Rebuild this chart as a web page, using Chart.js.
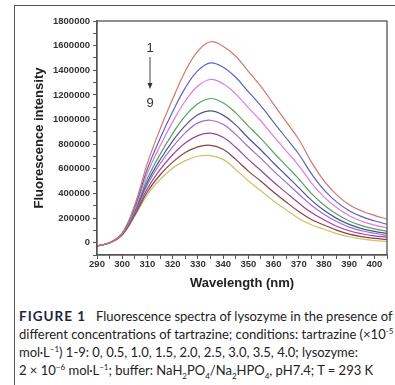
<!DOCTYPE html>
<html>
<head>
<meta charset="utf-8">
<script src="https://cdn.jsdelivr.net/npm/chart.js@4.4.0/dist/chart.umd.min.js"></script>
<style>
body{margin:0;background:#fff;width:395px;height:385px;overflow:hidden;position:relative}
#frame{position:absolute;left:14px;top:5px;width:420px;height:420px;border-left:1.5px solid #555;border-top:1.5px solid #555}
#grafico{position:absolute;left:0;top:0}
#didascalia{position:absolute;left:19px;top:307px;white-space:nowrap;font-family:Lato,"Open Sans",sans-serif;font-size:13px;line-height:18px;color:#222}
#didascalia .fig{font-weight:bold;letter-spacing:1px;color:#1c2540;font-size:13.5px}
#didascalia sup,#didascalia sub{font-size:8px;line-height:0}
</style>
</head>
<body>
<div id="frame"></div>
<canvas id="grafico" width="395" height="300"></canvas>
<div id="didascalia">
<span class="fig">FIGURE 1</span>&nbsp;&nbsp;&nbsp;Fluorescence spectra of lysozyme in the presence of<br>
different concentrations of tartrazine; conditions: tartrazine (×10<sup>-5</sup><br>
mol·L<sup>−1</sup>) 1-9: 0, 0.5, 1.0, 1.5, 2.0, 2.5, 3.0, 3.5, 4.0; lysozyme:<br>
2 × 10<sup>−6</sup> mol·L<sup>−1</sup>; buffer: NaH<sub>2</sub>PO<sub>4</sub>/Na<sub>2</sub>HPO<sub>4</sub>, pH7.4; T = 293 K
</div>
<script>
// lunghezze d'onda (nm)
var lunghezze = [290,295,300,305,310,315,320,325,330,335,340,345,350,355,360,365,370,375,380,385,390,395,400,405];

// intensita' di fluorescenza, curve 1-9
var curva1 = [12000,38000,115000,340000,670000,940000,1180000,1400000,1560000,1635000,1600000,1520000,1400000,1280000,1140000,1000000,860000,680000,530000,420000,340000,290000,255000,225000];
var curva2 = [12000,38000,113000,325000,625000,866000,1078000,1268000,1405000,1467000,1433000,1353000,1238000,1126000,997000,870000,743000,587000,458000,362000,292000,245000,212000,185000];
var curva3 = [12000,38000,112000,312000,590000,807000,998000,1164000,1283000,1335000,1301000,1221000,1111000,1005000,885000,768000,651000,514000,402000,317000,252000,208000,178000,155000];
var curva4 = [12000,38000,110000,298000,548000,740000,905000,1045000,1142000,1184000,1150000,1070000,965000,865000,755000,650000,545000,430000,338000,265000,210000,173000,148000,130000];
var curva5 = [12000,38000,108000,290000,520000,697000,846000,968000,1054000,1085000,1052000,974000,870000,775000,671000,574000,476000,376000,295000,231000,183000,150000,128000,112000];
var curva6 = [12000,37000,106000,280000,498000,665000,800000,911000,990000,1011000,979000,899000,800000,708000,609000,517000,425000,335000,264000,206000,162000,133000,113000,97000];
var curva7 = [12000,37000,104000,270000,468000,618000,737000,830000,889000,908000,876000,796000,700000,612000,520000,436000,353000,277000,220000,169000,133000,109000,92000,82000];
var curva8 = [12000,36000,101000,258000,443000,576000,678000,754000,800000,812000,780000,700000,607000,526000,441000,361000,286000,222000,179000,138000,106000,86000,72000,64000];
var curva9 = [12000,35000,98000,250000,420000,540000,630000,690000,725000,730000,700000,620000,530000,450000,370000,300000,230000,180000,145000,110000,85000,68000,55000,48000];

var curve = [curva1,curva2,curva3,curva4,curva5,curva6,curva7,curva8,curva9];
var colori = ["#d4776a","#5b63c4","#e07ade","#5aa05e","#4b5490","#9a70d0","#a0409e","#8c4040","#c9c46a"];

var cornice = {
  id: 'cornice',
  afterDraw: function(chart)
  {
    var ctx = chart.ctx;
    var a = chart.chartArea;
    ctx.save();
    ctx.strokeStyle = "#555";
    ctx.lineWidth = 1.3;
    ctx.strokeRect(a.left, a.top, a.right - a.left, a.bottom - a.top);
    // freccia 1 -> 9
    ctx.fillStyle = "#333";
    ctx.font = "13px 'Liberation Sans'";
    ctx.textAlign = "center";
    ctx.textBaseline = "middle";
    ctx.fillText("1", 150, 48);
    ctx.fillText("9", 150, 103);
    ctx.strokeStyle = "#444";
    ctx.lineWidth = 1;
    ctx.beginPath();
    ctx.moveTo(150, 57);
    ctx.lineTo(150, 86);
    ctx.stroke();
    ctx.beginPath();
    ctx.moveTo(147.5, 83);
    ctx.lineTo(152.5, 83);
    ctx.lineTo(150, 89);
    ctx.closePath();
    ctx.fill();
    ctx.restore();
  }
};

new Chart(document.getElementById("grafico"),
{
  type: 'line',
  data:
  {
    datasets: curve.map(function(c, i)
    {
      return {
        label: String(i + 1),
        data: c.map(function(v, j) { return {x: lunghezze[j], y: v}; }),
        borderColor: colori[i],
        borderWidth: 1.2,
        pointRadius: 0,
        fill: false,
        tension: 0.4
      };
    })
  },
  options:
  {
    responsive: false,
    animation: false,
    devicePixelRatio: 1,
    layout: { padding: { left: 28, top: 21, right: 8, bottom: 5 } },
    plugins: { legend: { display: false }, tooltip: { enabled: false } },
    scales:
    {
      x:
      {
        type: 'linear',
        min: 290,
        max: 405,
        afterFit: function(s) { s.height = 40; },
        grid: { drawOnChartArea: false, tickLength: 4, color: "#555", tickColor: "#555" },
        border: { color: "#555", width: 1.3 },
        ticks:
        {
          stepSize: 5,
          padding: 0,
          includeBounds: false,
          autoSkip: false,
          maxRotation: 0,
          color: "#333",
          font: { family: "'Liberation Sans'", size: 9.5, weight: 'bold' },
          callback: function(v) { return Math.round(v) % 10 === 0 ? Math.round(v) : ''; }
        },
        title:
        {
          display: true,
          text: 'Wavelength (nm)',
          color: "#222",
          font: { family: "'Liberation Sans'", size: 13, weight: 'bold' }
        }
      },
      y:
      {
        min: -60000,
        max: 1800000,
        afterFit: function(s) { s.width = 69; },
        grid: { drawOnChartArea: false, tickLength: 4, color: "#555", tickColor: "#555" },
        border: { color: "#555", width: 1.3 },
        ticks:
        {
          stepSize: 100000,
          includeBounds: false,
          autoSkip: false,
          color: "#333",
          font: { family: "'Liberation Sans'", size: 9.5, weight: 'bold' },
          callback: function(v)
          {
            var n = Math.round(v / 100000);
            return n % 2 === 0 ? String(n * 100000) : '';
          }
        },
        title:
        {
          display: true,
          text: 'Fluorescence intensity',
          color: "#222",
          font: { family: "'Liberation Sans'", size: 13, weight: 'bold' }
        }
      }
    }
  },
  plugins: [cornice]
});
</script>
</body>
</html>
